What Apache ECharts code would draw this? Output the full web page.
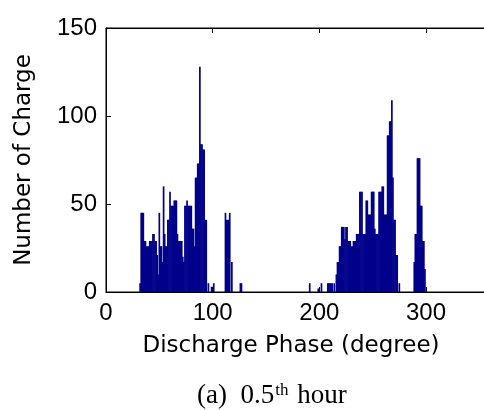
<!DOCTYPE html>
<html>
<head>
<meta charset="utf-8">
<script src="https://cdn.jsdelivr.net/npm/echarts@6/dist/echarts.min.js"></script>
<style>
html,body{margin:0;padding:0;background:#fff;}
#chart{width:484px;height:410px;}
</style>
</head>
<body>
<div id="chart"></div>
<script>
// Discharge phase bins (degrees) with non-zero counts
const phases = [
  32,33,34,35,36,37,38,39,40,41,42,43,44,45,46,47,48,49,50,51,52,53,54,55,56,57,58,59,60,
  61,62,63,64,65,66,67,68,69,70,71,72,73,74,75,76,77,78,79,80,81,82,83,84,85,86,87,88,89,90,
  91,92,93,94,96,99,101,112,113,114,115,116,118,126,127,
  191,199,202,208,209,210,211,212,214,216,217,218,219,220,221,222,223,224,225,226,227,228,229,230,
  231,232,233,234,235,236,237,238,239,240,241,242,243,244,245,246,247,248,249,250,
  251,252,253,254,255,256,257,258,259,260,261,262,263,264,265,266,267,268,269,270,
  271,272,273,275,289,290,291,292,293,294,295,296,297,298,299
];
const counts = [
  5,45,45,45,29,29,26,26,26,29,29,29,33,33,29,29,21,10,45,26,26,17,60,33,26,26,41,41,57,
  49,49,49,52,52,52,33,29,29,29,29,20,17,49,49,52,49,49,49,49,36,36,26,65,65,73,73,128,84,84,
  81,81,41,41,5,3,5,45,41,41,41,45,17,5,5,
  5,2,5,5,5,5,5,5,5,10,17,17,26,26,37,37,37,30,37,37,29,29,29,26,
  26,29,29,29,33,33,33,57,57,57,33,33,33,52,52,44,44,44,57,57,
  57,36,33,33,33,57,57,57,60,60,44,44,44,89,89,97,97,109,65,41,
  41,21,21,5,17,33,33,76,76,76,49,49,29,29,13
];
const xTicks = {min: 0, max: 360, interval: 100};
const yTicks = {min: 0, max: 150, interval: 50};

const barData = phases.map((p, i) => [p, counts[i]]);

const chart = echarts.init(document.getElementById('chart'), null, {renderer: 'canvas'});
const tickFont = {fontFamily: 'Liberation Sans', fontSize: 24, color: '#000'};
const nameFont = {fontFamily: 'DejaVu Sans', fontSize: 23, color: '#000'};

chart.setOption({
  animation: false,
  backgroundColor: '#fff',
  title: {
    text: '(a)  0.5{sup|th} hour',
    left: 192,
    top: 377,
    textStyle: {
      fontFamily: 'Liberation Serif', fontSize: 27, color: '#000', fontWeight: 'normal',
      rich: {
        sup: {fontFamily: 'Liberation Serif', fontSize: 17, color: '#000', verticalAlign: 'top', padding: [0, 2, 10, 1]}
      }
    }
  },
  grid: {
    left: 106, right: -6, top: 28, bottom: 118,
    containLabel: false, outerBoundsMode: 'none',
    show: true, borderColor: '#000', borderWidth: 1, backgroundColor: 'transparent'
  },
  xAxis: [
    {
      type: 'value', position: 'bottom',
      min: xTicks.min, max: xTicks.max, interval: xTicks.interval,
      axisLine: {show: true, onZero: false, lineStyle: {color: '#000', width: 1}},
      axisTick: {show: true, inside: true, length: 5, lineStyle: {color: '#000'}},
      axisLabel: Object.assign({margin: 9, showMaxLabel: false}, tickFont),
      splitLine: {show: false},
      name: 'Discharge Phase (degree)',
      nameLocation: 'middle', nameGap: 43,
      nameTextStyle: Object.assign({padding: [0, 14, 0, 0]}, nameFont)
    },
    {
      type: 'value', position: 'top',
      min: xTicks.min, max: xTicks.max, interval: xTicks.interval,
      axisLine: {show: true, onZero: false, lineStyle: {color: '#000', width: 1}},
      axisTick: {show: true, inside: true, length: 5, lineStyle: {color: '#000'}},
      axisLabel: {show: false},
      splitLine: {show: false}
    }
  ],
  yAxis: [
    {
      type: 'value', position: 'left',
      min: yTicks.min, max: yTicks.max, interval: yTicks.interval,
      axisLine: {show: true, onZero: false, lineStyle: {color: '#000', width: 1}},
      axisTick: {show: true, inside: true, length: 5, lineStyle: {color: '#000'}},
      axisLabel: Object.assign({margin: 9}, tickFont),
      splitLine: {show: false},
      name: 'Number of Charge',
      nameLocation: 'middle', nameGap: 70,
      nameTextStyle: nameFont
    }
  ],
  series: [
    {
      type: 'bar',
      xAxisIndex: 0,
      yAxisIndex: 0,
      data: barData,
      barWidth: 1.7,
      itemStyle: {color: '#00008B'},
      silent: true
    }
  ]
});
</script>
</body>
</html>
